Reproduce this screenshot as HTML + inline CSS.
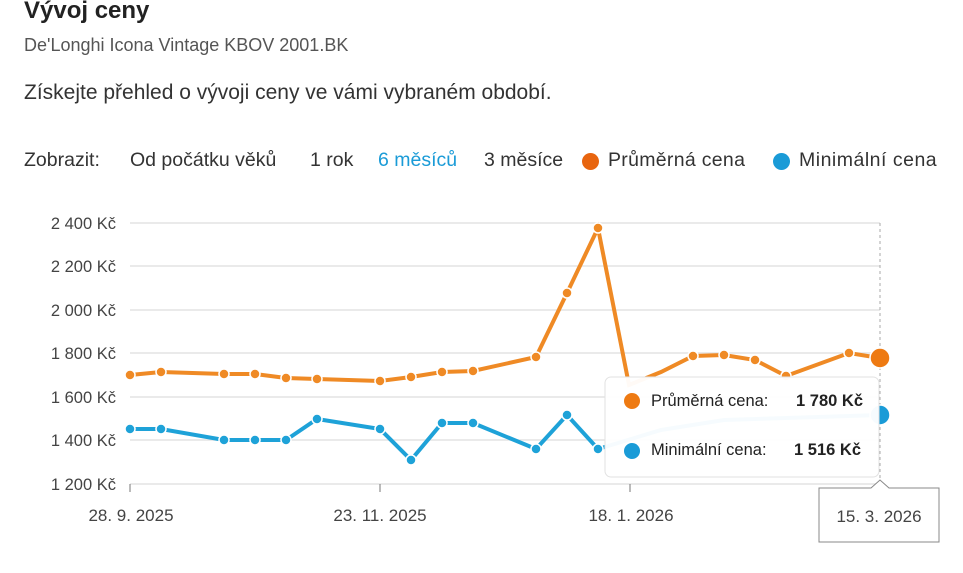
<!DOCTYPE html>
<html><head><meta charset="utf-8"><style>
body{margin:0;width:963px;height:573px;background:#fff;font-family:"Liberation Sans",sans-serif;position:relative;overflow:hidden}
.t{position:absolute;white-space:nowrap}
</style></head><body>
<div class="t" style="left:24px;top:-3px;font-size:24px;font-weight:bold;color:#222">Vývoj ceny</div>
<div class="t" style="left:24px;top:35px;font-size:18px;color:#555">De'Longhi Icona Vintage KBOV 2001.BK</div>
<div class="t" style="left:24px;top:81px;font-size:21px;color:#333">Získejte přehled o vývoji ceny ve vámi vybraném období.</div>
<div class="t" style="left:24px;top:149px;font-size:19.5px;color:#333">Zobrazit:</div>
<div class="t" style="left:130px;top:149px;font-size:19.5px;color:#333">Od počátku věků</div>
<div class="t" style="left:310px;top:149px;font-size:19.5px;color:#333">1 rok</div>
<div class="t" style="left:378px;top:149px;font-size:19.5px;color:#1a9bd7">6 měsíců</div>
<div class="t" style="left:484px;top:149px;font-size:19.5px;color:#333">3 měsíce</div>
<div class="t" style="left:582px;top:153px;width:17px;height:17px;border-radius:50%;background:#e8650f"></div>
<div class="t" style="left:608px;top:149px;font-size:19.5px;color:#333;letter-spacing:0.3px">Průměrná cena</div>
<div class="t" style="left:773px;top:153px;width:17px;height:17px;border-radius:50%;background:#1a9bd7"></div>
<div class="t" style="left:799px;top:149px;font-size:19.5px;color:#333;letter-spacing:0.5px">Minimální cena</div>
<svg width="963" height="573" style="position:absolute;left:0;top:0" font-family="Liberation Sans, sans-serif">
<g stroke="#e4e4e4" stroke-width="1.5">
<line x1="130" x2="880" y1="223" y2="223"/><line x1="130" x2="880" y1="266" y2="266"/><line x1="130" x2="880" y1="310" y2="310"/><line x1="130" x2="880" y1="353" y2="353"/><line x1="130" x2="880" y1="397" y2="397"/><line x1="130" x2="880" y1="440" y2="440"/><line x1="130" x2="880" y1="484" y2="484"/>
</g>
<g fill="#444" font-size="16.5" text-anchor="end">
<text x="116" y="229">2 400 Kč</text><text x="116" y="272">2 200 Kč</text><text x="116" y="316">2 000 Kč</text><text x="116" y="359">1 800 Kč</text><text x="116" y="403">1 600 Kč</text><text x="116" y="446">1 400 Kč</text><text x="116" y="490">1 200 Kč</text>
</g>
<g stroke="#777" stroke-width="1"><line x1="130" x2="130" y1="484" y2="492"/><line x1="380" x2="380" y1="484" y2="492"/><line x1="630" x2="630" y1="484" y2="492"/></g>
<g fill="#444" font-size="17" text-anchor="middle"><text x="131" y="521">28. 9. 2025</text><text x="380" y="521">23. 11. 2025</text><text x="631" y="521">18. 1. 2026</text></g>
<line x1="880" x2="880" y1="223" y2="484" stroke="#aaa" stroke-dasharray="3,3"/>
<polyline fill="none" stroke="#ef8a25" stroke-width="4" points="130,375 161,372 224,374 255,374 286,378 317,379 380,381 411,377 442,372 473,371 536,357 567,293 598,228 629,385 661,372 693,356 724,355 755,360 786,376 849,353 880,358"/>
<g fill="#ef8a25" stroke="#fff" stroke-width="1.5">
<circle cx="130" cy="375" r="5"/><circle cx="161" cy="372" r="5"/><circle cx="224" cy="374" r="5"/><circle cx="255" cy="374" r="5"/><circle cx="286" cy="378" r="5"/><circle cx="317" cy="379" r="5"/><circle cx="380" cy="381" r="5"/><circle cx="411" cy="377" r="5"/><circle cx="442" cy="372" r="5"/><circle cx="473" cy="371" r="5"/><circle cx="536" cy="357" r="5"/><circle cx="567" cy="293" r="5"/><circle cx="598" cy="228" r="5"/><circle cx="693" cy="356" r="5"/><circle cx="724" cy="355" r="5"/><circle cx="755" cy="360" r="5"/><circle cx="786" cy="376" r="5"/><circle cx="849" cy="353" r="5"/><circle cx="880" cy="358" r="10" fill="#ee7a12"/>
</g>
<polyline fill="none" stroke="#1ea2d8" stroke-width="4" points="130,429 161,429 224,440 255,440 286,440 317,419 380,429 411,460 442,423 473,423 536,449 567,415 598,449 661,430 724,420 786,418 849,416 880,415"/>
<g fill="#1ea2d8" stroke="#fff" stroke-width="1.5">
<circle cx="130" cy="429" r="5"/><circle cx="161" cy="429" r="5"/><circle cx="224" cy="440" r="5"/><circle cx="255" cy="440" r="5"/><circle cx="286" cy="440" r="5"/><circle cx="317" cy="419" r="5"/><circle cx="380" cy="429" r="5"/><circle cx="411" cy="460" r="5"/><circle cx="442" cy="423" r="5"/><circle cx="473" cy="423" r="5"/><circle cx="536" cy="449" r="5"/><circle cx="567" cy="415" r="5"/><circle cx="598" cy="449" r="5"/><circle cx="880" cy="415" r="10" fill="#1a9bd7"/>
</g>
<rect x="605" y="377" width="274" height="100" rx="6" fill="#fff" fill-opacity="0.96" stroke="#e2e2e2"/>
<circle cx="632" cy="401" r="8" fill="#ee7a12"/>
<text x="651" y="406" font-size="16.5" fill="#222">Průměrná cena:</text>
<text x="863" y="406" font-size="16.5" fill="#222" font-weight="bold" text-anchor="end">1 780 Kč</text>
<circle cx="632" cy="451" r="8" fill="#1a9bd7"/>
<text x="651" y="455" font-size="16.5" fill="#222">Minimální cena:</text>
<text x="861" y="455" font-size="16.5" fill="#222" font-weight="bold" text-anchor="end">1 516 Kč</text>
<path d="M819,488 H871 L880,480 L889,488 H939 V542 H819 Z" fill="#fff" stroke="#888"/>
<text x="879" y="522" font-size="17" fill="#444" text-anchor="middle">15. 3. 2026</text>
</svg>
</body></html>
